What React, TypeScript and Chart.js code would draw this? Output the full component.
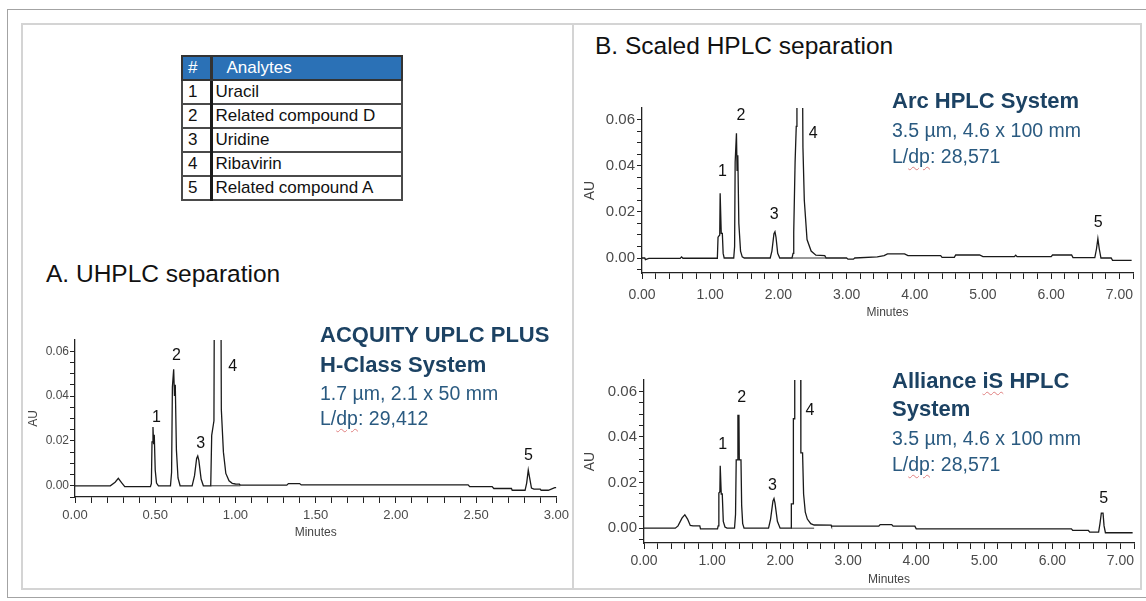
import React, { useEffect, useRef } from 'react';
import { Chart, registerables } from 'chart.js';

Chart.register(...registerables);

const FONT = '"Liberation Sans", Arial, Helvetica, sans-serif';

// ---------------- data ----------------
const analyteIds = ['1', '2', '3', '4', '5'];
const analyteNames = ['Uracil', 'Related compound D', 'Uridine', 'Ribavirin', 'Related compound A'];
const peakNumbers = ['1', '2', '3', '4', '5'];

// A. UHPLC (ACQUITY UPLC PLUS H-Class)
const uhplcTime = [0.00, 0.22, 0.25, 0.27, 0.29, 0.31, 0.47, 0.476, 0.480, 0.486, 0.490, 0.494, 0.500, 0.508, 0.520,
  0.595, 0.602, 0.607, 0.615, 0.620, 0.625, 0.632, 0.642, 0.655, 0.730, 0.745, 0.758, 0.765, 0.772, 0.786, 0.800,
  0.846, 0.852, 0.866, 0.870, 0.908, 0.912, 0.925, 0.940, 0.960, 0.980, 1.000, 1.025, 1.030, 1.320, 1.330, 1.400,
  1.410, 2.450, 2.460, 2.600, 2.610, 2.720, 2.725, 2.805, 2.815, 2.825, 2.835, 2.845, 2.860, 2.900, 2.905, 2.950,
  2.990, 3.000];
const uhplcAU = [0.0000, 0.0000, 0.0016, 0.0033, 0.0014, -0.0004, -0.0004, 0.0010, 0.0196, 0.0262, 0.0185, 0.0228, 0.0070, 0.0012, 0.0000,
  0.0000, 0.0060, 0.0440, 0.0519, 0.0400, 0.0450, 0.0160, 0.0035, 0.0000, 0.0000, 0.0045, 0.0122, 0.0133, 0.0112, 0.0030, 0.0000,
  0.0000, 0.0225, 0.0290, 0.1200, 0.1200, 0.0340, 0.0150, 0.0055, 0.0022, 0.0011, 0.0008, 0.0007, 0.0003, 0.0003, 0.0010, 0.0010,
  0.0004, 0.0004, -0.0004, -0.0004, -0.0012, -0.0012, -0.0020, -0.0020, 0.0012, 0.0070, 0.0030, -0.0010, -0.0015, -0.0015, -0.0020, -0.0020,
  -0.0008, -0.0008];
const uhplcBaseTime = [0.846, 1.030];
const uhplcBaseAU = [0.0, 0.0];
const uhplcLabelTime = [0.507, 0.632, 0.783, 0.983, 2.826];
const uhplcLabelAU = [0.0304, 0.0580, 0.0190, 0.0530, 0.0136];

// B. Arc HPLC
const arcTime = [0.00, 0.04, 0.05, 0.10, 0.56, 0.58, 0.60, 1.105, 1.115, 1.140, 1.146, 1.156, 1.162, 1.178, 1.190, 1.205,
  1.345, 1.358, 1.366, 1.385, 1.394, 1.405, 1.420, 1.445, 1.470, 1.500, 1.880, 1.905, 1.935, 1.950, 1.965, 1.990, 2.020,
  2.200, 2.215, 2.225, 2.245, 2.262, 2.272, 2.345, 2.360, 2.380, 2.420, 2.480, 2.550, 2.680, 2.700, 3.000, 3.020, 3.100,
  3.120, 3.450, 3.550, 3.600, 3.850, 3.900, 4.380, 4.400, 4.580, 4.600, 4.950, 5.000, 5.460, 5.480, 5.500, 6.000, 6.020,
  6.300, 6.320, 6.640, 6.665, 6.685, 6.705, 6.730, 6.880, 6.900, 7.180];
const arcAU = [0.0000, 0.0000, -0.0007, -0.0002, -0.0002, 0.0005, -0.0001, -0.0001, 0.0090, 0.0100, 0.0281, 0.0281, 0.0107, 0.0107, 0.0020, 0.0000,
  0.0000, 0.0050, 0.0416, 0.0540, 0.0380, 0.0445, 0.0150, 0.0030, 0.0005, 0.0000, 0.0000, 0.0030, 0.0105, 0.0114, 0.0090, 0.0020, 0.0000,
  0.0000, 0.0020, 0.0110, 0.0416, 0.0570, 0.1200, 0.1200, 0.0480, 0.0250, 0.0080, 0.0030, 0.0012, 0.0010, 0.0000, 0.0000, -0.0005, -0.0005,
  0.0000, 0.0005, 0.0010, 0.0018, 0.0018, 0.0010, 0.0010, 0.0003, 0.0003, 0.0013, 0.0013, 0.0006, 0.0006, 0.0012, 0.0006, 0.0006, 0.0013,
  0.0013, 0.0002, 0.0002, 0.0040, 0.0084, 0.0040, 0.0000, 0.0000, -0.0010, -0.0010];
const arcBaseTime = [2.200, 2.700];
const arcBaseAU = [0.0, 0.0];
const arcLabelTime = [1.18, 1.45, 1.94, 2.51, 6.69];
const arcLabelAU = [0.0376, 0.0616, 0.0188, 0.0540, 0.0155];

// B. Alliance iS HPLC
const allianceTime = [0.00, 0.46, 0.50, 0.56, 0.60, 0.64, 0.68, 0.72, 0.82, 0.83, 1.08, 1.09, 1.100, 1.115, 1.120, 1.130,
  1.135, 1.150, 1.165, 1.190, 1.220, 1.330, 1.345, 1.355, 1.375, 1.380, 1.395, 1.400, 1.425, 1.435, 1.450, 1.470,
  1.830, 1.860, 1.895, 1.910, 1.925, 1.960, 2.000, 2.160, 2.165, 2.190, 2.195, 2.210, 2.215, 2.300, 2.305, 2.330,
  2.345, 2.370, 2.400, 2.450, 2.500, 2.750, 2.755, 3.450, 3.470, 3.640, 3.660, 3.980, 4.000, 6.280, 6.300, 6.530,
  6.550, 6.680, 6.700, 6.720, 6.745, 6.760, 6.780, 7.180];
const allianceAU = [0.0000, 0.0000, 0.0010, 0.0045, 0.0059, 0.0040, 0.0012, 0.0010, 0.0010, -0.0003, -0.0003, 0.0010, 0.0154, 0.0160, 0.0274, 0.0274,
  0.0150, 0.0150, 0.0030, 0.0005, 0.0000, 0.0000, 0.0060, 0.0300, 0.0300, 0.0495, 0.0495, 0.0300, 0.0300, 0.0100, 0.0020, 0.0000,
  0.0000, 0.0040, 0.0120, 0.0130, 0.0110, 0.0030, 0.0000, 0.0000, 0.0107, 0.0107, 0.0480, 0.0480, 0.1200, 0.1200, 0.0330, 0.0330,
  0.0150, 0.0070, 0.0040, 0.0020, 0.0014, 0.0013, 0.0009, 0.0009, 0.0016, 0.0016, 0.0009, 0.0009, -0.0003, -0.0003, -0.0010, -0.0010,
  -0.0017, -0.0017, 0.0020, 0.0066, 0.0066, 0.0010, -0.0020, -0.0020];
const allianceBaseTime = [2.160, 2.500];
const allianceBaseAU = [0.0, 0.0];
const allianceLabelTime = [1.157, 1.436, 1.887, 2.44, 6.755];
const allianceLabelAU = [0.0366, 0.0573, 0.0188, 0.0517, 0.0129];

// axis ticks
const auTicks = [-0.005, 0, 0.005, 0.01, 0.015, 0.02, 0.025, 0.03, 0.035, 0.04, 0.045, 0.05, 0.055, 0.06];
const auTickLabels = [0, 0.02, 0.04, 0.06];
const uhplcMinuteTicks = [0, 0.1, 0.2, 0.3, 0.4, 0.5, 0.6, 0.7, 0.8, 0.9, 1.0, 1.1, 1.2, 1.3, 1.4, 1.5, 1.6, 1.7, 1.8, 1.9,
  2.0, 2.1, 2.2, 2.3, 2.4, 2.5, 2.6, 2.7, 2.8, 2.9, 3.0];
const uhplcMinuteLabels = [0, 0.5, 1.0, 1.5, 2.0, 2.5, 3.0];
const hplcMinuteTicks = [0, 0.2, 0.4, 0.6, 0.8, 1.0, 1.2, 1.4, 1.6, 1.8, 2.0, 2.2, 2.4, 2.6, 2.8, 3.0, 3.2, 3.4, 3.6, 3.8,
  4.0, 4.2, 4.4, 4.6, 4.8, 5.0, 5.2, 5.4, 5.6, 5.8, 6.0, 6.2, 6.4, 6.6, 6.8, 7.0, 7.2];
const hplcMinuteLabels = [0, 1, 2, 3, 4, 5, 6, 7];

// ---------------- chart ----------------
const peakLabelPlugin = {
  id: 'peakLabels',
  afterDatasetsDraw(chart: any, _args: any, opts: any) {
    const { ctx, scales } = chart;
    const xs = scales.x;
    const ys = scales.y;
    ctx.save();
    ctx.font = `${opts.size}px ${FONT}`;
    ctx.fillStyle = '#111';
    ctx.textAlign = 'center';
    ctx.textBaseline = 'middle';
    (opts.times as number[]).forEach((t, i) => {
      ctx.fillText(opts.texts[i], xs.getPixelForValue(t), ys.getPixelForValue(opts.values[i]));
    });
    ctx.restore();
  },
};

const isIn = (list: number[], v: number) => list.some((l) => Math.abs(l - v) < 1e-9);

type Layout = {
  left: number; top: number; width: number; height: number;
  yWidth: number; xHeight: number; padTop: number; padRight: number;
  yFont: number; xFont: number; auFont: number; minFont: number;
  xPad: number; yPad: number; labelFont: number;
};

function Chromatogram(props: {
  layout: Layout; time: number[]; au: number[]; baseTime: number[]; baseAU: number[];
  labelTime: number[]; labelAU: number[]; xMax: number; xTicks: number[]; xLabels: number[];
  yMin: number; yMax: number;
}) {
  const ref = useRef<HTMLCanvasElement>(null);
  const { layout: L } = props;
  useEffect(() => {
    if (!ref.current) return;
    const chart = new Chart(ref.current, {
      type: 'line',
      data: {
        datasets: [
          {
            data: props.baseTime.map((t, i) => ({ x: t, y: props.baseAU[i] })),
            borderColor: '#333', borderWidth: 1, pointRadius: 0, tension: 0,
          },
          {
            data: props.time.map((t, i) => ({ x: t, y: props.au[i] })),
            borderColor: '#1a1a1a', borderWidth: 1.3, pointRadius: 0, tension: 0,
          },
        ],
      },
      options: {
        animation: false,
        responsive: false,
        maintainAspectRatio: false,
        layout: { padding: { top: L.padTop, right: L.padRight, left: 0, bottom: 0 } },
        plugins: {
          legend: { display: false },
          tooltip: { enabled: false },
          peakLabels: { times: props.labelTime, values: props.labelAU, texts: peakNumbers, size: L.labelFont },
        } as any,
        scales: {
          x: {
            type: 'linear', min: 0, max: props.xMax,
            afterBuildTicks: (s: any) => { s.ticks = props.xTicks.map((v) => ({ value: v })); },
            afterFit: (s: any) => { s.height = L.xHeight; },
            ticks: {
              autoSkip: false, maxRotation: 0, padding: L.xPad, color: '#4a4a4a',
              font: { family: FONT, size: L.xFont },
              callback: (v: any) => (isIn(props.xLabels, Number(v)) ? Number(v).toFixed(2) : ''),
            },
            grid: { drawOnChartArea: false, drawTicks: true, tickLength: 6, color: '#222', lineWidth: 1 },
            border: { display: true, color: '#222', width: 1.3 },
            title: { display: true, text: 'Minutes', color: '#444', font: { family: FONT, size: L.minFont }, padding: 0 },
          },
          y: {
            type: 'linear', min: props.yMin, max: props.yMax,
            afterBuildTicks: (s: any) => { s.ticks = auTicks.map((v) => ({ value: v })); },
            afterFit: (s: any) => { s.width = L.yWidth; },
            ticks: {
              autoSkip: false, padding: L.yPad, color: '#4a4a4a',
              font: { family: FONT, size: L.yFont },
              callback: (v: any) => (isIn(auTickLabels, Number(v)) ? Number(v).toFixed(2) : ''),
            },
            grid: { drawOnChartArea: false, drawTicks: true, tickLength: 5, color: '#222', lineWidth: 1 },
            border: { display: true, color: '#222', width: 1.3 },
            title: { display: true, text: 'AU', color: '#444', font: { family: FONT, size: L.auFont }, padding: 0 },
          },
        },
      } as any,
      plugins: [peakLabelPlugin],
    });
    return () => chart.destroy();
  }, []);
  return (
    <canvas
      ref={ref}
      width={L.width}
      height={L.height}
      style={{ position: 'absolute', left: L.left, top: L.top, width: L.width, height: L.height }}
    />
  );
}

// ---------------- page ----------------
const boldBlue = '#1c4263';
const regBlue = '#2a5a80';
const squiggle: React.CSSProperties = {
  textDecorationLine: 'underline', textDecorationStyle: 'wavy', textDecorationColor: '#e08080',
  textDecorationThickness: '1px', textUnderlineOffset: '3px',
};

function TextLine(p: { x: number; base: number; size: number; bold?: boolean; color: string; children: React.ReactNode }) {
  return (
    <div
      style={{
        position: 'absolute', left: p.x, top: p.base - 0.8465 * p.size, fontSize: p.size, lineHeight: 1,
        fontWeight: p.bold ? 700 : 400, color: p.color, whiteSpace: 'nowrap', fontFamily: FONT,
      }}
    >
      {p.children}
    </div>
  );
}

const cellBase: React.CSSProperties = {
  border: '2px solid #4a4a4a', padding: '0 0 0 3px', height: 22, fontSize: 17, lineHeight: '22px',
  fontFamily: FONT, color: '#111', whiteSpace: 'nowrap', verticalAlign: 'middle', background: '#fff',
};

export default function App() {
  return (
    <div style={{ position: 'absolute', left: 0, top: 0, width: 1146, height: 601, background: '#fff', overflow: 'hidden', fontFamily: FONT }}>
      {/* frames */}
      <div style={{ position: 'absolute', left: 7, top: 9, width: 1150, height: 589, border: '1px solid #a3a3a3', boxSizing: 'border-box' }} />
      <div style={{ position: 'absolute', left: 21, top: 23, width: 553, height: 567, border: '2px solid #d4d4d4', boxSizing: 'border-box' }} />
      <div style={{ position: 'absolute', left: 572, top: 23, width: 570, height: 567, border: '2px solid #d4d4d4', boxSizing: 'border-box' }} />

      {/* analyte table */}
      <table style={{ position: 'absolute', left: 181, top: 55, width: 220, borderCollapse: 'collapse', tableLayout: 'fixed' }}>
        <colgroup>
          <col style={{ width: 29 }} />
          <col style={{ width: 191 }} />
        </colgroup>
        <tbody>
          <tr>
            <td style={{ ...cellBase, background: '#2b71b6', color: '#fff', borderRight: '3px solid #1a1a1a', borderColor: '#333', padding: '0 0 0 5px' }}>#</td>
            <td style={{ ...cellBase, background: '#2b71b6', color: '#fff', borderColor: '#333', padding: '0 0 0 14px' }}>Analytes</td>
          </tr>
          {analyteIds.map((id, i) => (
            <tr key={id}>
              <td style={{ ...cellBase, borderRight: '3px solid #1a1a1a', padding: '0 0 0 5px' }}>{id}</td>
              <td style={{ ...cellBase }}>{analyteNames[i]}</td>
            </tr>
          ))}
        </tbody>
      </table>

      {/* charts */}
      <Chromatogram
        layout={{ left: 26, top: 330, width: 548, height: 210, yWidth: 49, xHeight: 43, padTop: 10, padRight: 16,
          yFont: 12, xFont: 13, auFont: 12, minFont: 12, xPad: 5, yPad: 1, labelFont: 16 }}
        time={uhplcTime} au={uhplcAU} baseTime={uhplcBaseTime} baseAU={uhplcBaseAU}
        labelTime={uhplcLabelTime} labelAU={uhplcLabelAU}
        xMax={3.0} xTicks={uhplcMinuteTicks} xLabels={uhplcMinuteLabels} yMin={-0.005} yMax={0.065}
      />
      <Chromatogram
        layout={{ left: 582, top: 97, width: 561, height: 223, yWidth: 60, xHeight: 47, padTop: 10, padRight: 10,
          yFont: 15, xFont: 14, auFont: 14, minFont: 12, xPad: 8, yPad: 2, labelFont: 16 }}
        time={arcTime} au={arcAU} baseTime={arcBaseTime} baseAU={arcBaseAU}
        labelTime={arcLabelTime} labelAU={arcLabelAU}
        xMax={7.2} xTicks={hplcMinuteTicks} xLabels={hplcMinuteLabels} yMin={-0.0065} yMax={0.065}
      />
      <Chromatogram
        layout={{ left: 582, top: 369, width: 562, height: 218, yWidth: 62, xHeight: 44, padTop: 10, padRight: 10,
          yFont: 15, xFont: 14, auFont: 14, minFont: 12, xPad: 4, yPad: 2, labelFont: 16 }}
        time={allianceTime} au={allianceAU} baseTime={allianceBaseTime} baseAU={allianceBaseAU}
        labelTime={allianceLabelTime} labelAU={allianceLabelAU}
        xMax={7.2} xTicks={hplcMinuteTicks} xLabels={hplcMinuteLabels} yMin={-0.0065} yMax={0.065}
      />

      {/* titles */}
      <TextLine x={46} base={283} size={24.5} color="#111">A. UHPLC separation</TextLine>
      <TextLine x={595} base={55} size={24.5} color="#111">B. Scaled HPLC separation</TextLine>

      {/* system annotations */}
      <TextLine x={320} base={342.7} size={22} bold color={boldBlue}>ACQUITY UPLC PLUS</TextLine>
      <TextLine x={320} base={372.7} size={22} bold color={boldBlue}>H-Class System</TextLine>
      <TextLine x={320} base={401} size={19.5} color={regBlue}>1.7 µm, 2.1 x 50 mm</TextLine>
      <TextLine x={320} base={426} size={19.5} color={regBlue}>L/<span style={squiggle}>dp</span>: 29,412</TextLine>

      <TextLine x={892} base={108.3} size={22} bold color={boldBlue}>Arc HPLC System</TextLine>
      <TextLine x={892} base={137.3} size={19.5} color={regBlue}>3.5 µm, 4.6 x 100 mm</TextLine>
      <TextLine x={892} base={163.3} size={19.5} color={regBlue}>L/<span style={squiggle}>dp</span>: 28,571</TextLine>

      <TextLine x={892} base={388.3} size={22} bold color={boldBlue}>Alliance <span style={squiggle}>iS</span> HPLC</TextLine>
      <TextLine x={892} base={416.7} size={22} bold color={boldBlue}>System</TextLine>
      <TextLine x={892} base={446} size={19.5} color={regBlue}>3.5 µm, 4.6 x 100 mm</TextLine>
      <TextLine x={892} base={471.7} size={19.5} color={regBlue}>L/<span style={squiggle}>dp</span>: 28,571</TextLine>
    </div>
  );
}
